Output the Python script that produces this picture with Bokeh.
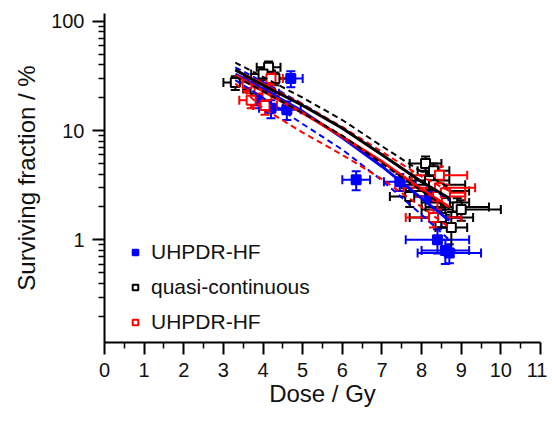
from bokeh.plotting import figure
from bokeh.models import (ColumnDataSource, Whisker, Legend, LegendItem,
                          LogAxis, LinearAxis, FixedTicker, Range1d)
from bokeh.embed import file_html
from bokeh.resources import INLINE

# ---------------- data ----------------
# UHPDR-HF (blue, filled)
blue_dose = [4.7, 4.1, 4.2, 4.6, 3.9, 6.35, 7.45, 8.4, 8.7, 8.6, 8.2, 8.5]
blue_sf = [30.0, 22.0, 16.0, 15.5, 19.0, 3.55, 3.4, 1.0, 0.76, 0.8, 2.5, 1.6]
blue_xerr = [0.3, 0.3, 0.3, 0.35, 0.3, 0.35, 0.4, 0.8, 0.8, 0.6, 0.5, 0.5]
blue_yerr = [5.0, 4.0, 3.0, 3.0, 3.0, 0.7, 0.6, 0.25, 0.15, 0.2, 0.5, 0.3]

# quasi-continuous (black, open)
black_dose = [4.14, 3.3, 4.0, 3.8, 4.3, 8.1, 8.3, 8.2, 8.4, 7.7, 8.6, 8.9, 9.0, 8.5, 8.3, 8.75]
black_sf = [38.0, 27.5, 33.0, 24.0, 30.0, 5.0, 4.3, 3.5, 2.8, 2.5, 2.2, 2.0, 1.9, 1.6, 3.2, 1.3]
black_xerr = [0.3, 0.3, 0.3, 0.3, 0.3, 0.4, 0.4, 0.5, 0.8, 0.5, 0.6, 0.8, 1.0, 0.8, 0.8, 0.4]
black_yerr = [5.0, 4.0, 4.0, 4.0, 4.0, 0.8, 0.7, 0.6, 0.5, 0.5, 0.5, 0.4, 0.4, 0.3, 0.5, 0.5]

# UHPDR-HF (red, open)
red_dose = [3.6, 3.9, 4.2, 4.1, 3.7, 4.05, 8.45, 8.45, 8.4, 8.3, 8.6]
red_sf = [27.0, 24.0, 30.0, 21.0, 19.0, 17.0, 3.9, 3.0, 2.5, 1.6, 2.7]
red_xerr = [0.3, 0.3, 0.3, 0.3, 0.3, 0.3, 0.7, 0.9, 0.7, 0.7, 0.5]
red_yerr = [4.0, 4.0, 4.0, 4.0, 3.0, 3.0, 0.8, 0.6, 0.6, 0.3, 0.5]

# fit curves
fit_dose = [3.3, 4.0, 5.0, 6.0, 7.0, 8.0, 8.7]
black_fit = [36, 26, 17, 10.5, 6.0, 3.4, 2.4]
black_hi = [42, 31, 20, 12.5, 7.2, 4.2, 3.0]
black_lo = [31, 23, 14.5, 9.0, 5.0, 2.8, 1.9]
red_fit = [32, 23, 14.5, 8.8, 5.2, 2.9, 2.0]
red_hi = [36, 27, 17.5, 10.8, 6.4, 3.8, 2.8]
red_lo = [27, 16, 9.6, 6.0, 3.6, 2.0, 1.3]
blue_fit = [33, 24, 15, 8.6, 4.7, 2.4, 1.5]
blue_hi = [38, 28, 17.5, 10.5, 6.0, 3.4, 2.3]
blue_lo = [29, 20, 11.5, 6.7, 3.5, 1.7, 1.0]

x_ticks = list(range(0, 12))
y_ticks = [1, 10, 100]

FONT = "Liberation Sans"
BLUE = "#0000ff"
BLACK = "#000000"
RED = "#ff0000"

p = figure(width=547, height=413, output_backend="svg", toolbar_location=None,
           y_axis_type="log", y_axis_location=None, x_axis_location=None,
           x_range=Range1d(0, 11), y_range=Range1d(0.115, 118),
           min_border_left=104, min_border_right=7, min_border_top=13,
           min_border_bottom=71)
p.outline_line_color = None
p.xgrid.visible = False
p.ygrid.visible = False

# axes
xa = LinearAxis(ticker=FixedTicker(ticks=x_ticks,
                                   minor_ticks=[i + 0.5 for i in range(11)]))
ya = LogAxis(ticker=FixedTicker(ticks=y_ticks,
                                minor_ticks=[m * 10 ** e for e in (-1, 0, 1) for m in range(2, 10)]))
for ax in (xa, ya):
    ax.axis_line_width = 2
    ax.axis_line_color = "black"
    ax.major_tick_line_width = 2
    ax.minor_tick_line_width = 1.5
    ax.major_tick_out = 12
    ax.major_tick_in = 0
    ax.minor_tick_out = 6
    ax.minor_tick_in = 0
    ax.major_label_text_font = FONT
    ax.major_label_text_font_size = "20px"
    ax.major_label_text_color = "#111111"
    ax.axis_label_text_font = FONT
    ax.axis_label_text_font_size = "24px"
    ax.axis_label_text_font_style = "normal"
    ax.axis_label_text_color = "#111111"
xa.axis_label = "Dose / Gy"
ya.axis_label = "Surviving fraction / %"
xa.major_label_standoff = 8
ya.major_label_standoff = 8
xa.axis_label_standoff = 0
ya.axis_label_standoff = 8
ya.major_label_overrides = {1: "1", 10: "10", 100: "100"}
p.add_layout(xa, "below")
p.add_layout(ya, "left")


def add_series(dose, sf, xerr, yerr, color, filled):
    src = ColumnDataSource(dict(
        x=dose, y=sf,
        xl=[d - e for d, e in zip(dose, xerr)], xu=[d + e for d, e in zip(dose, xerr)],
        yl=[s - e for s, e in zip(sf, yerr)], yu=[s + e for s, e in zip(sf, yerr)]))
    wx = Whisker(source=src, base="y", lower="xl", upper="xu", dimension="width",
                 line_color=color, line_width=2)
    wy = Whisker(source=src, base="x", lower="yl", upper="yu", dimension="height",
                 line_color=color, line_width=2)
    for w in (wx, wy):
        w.upper_head.line_color = color
        w.lower_head.line_color = color
        w.upper_head.line_width = 2
        w.lower_head.line_width = 2
        w.upper_head.size = 9
        w.lower_head.size = 9
    p.add_layout(wx)
    p.add_layout(wy)
    r = p.scatter("x", "y", source=src, marker="square", size=9,
                  line_color=color, line_width=2,
                  fill_color=color if filled else "white")
    return r


def add_fit(fit, hi, lo, color):
    p.line(fit_dose, fit, line_color=color, line_width=3)
    p.line(fit_dose, hi, line_color=color, line_width=2, line_dash="6 4")
    p.line(fit_dose, lo, line_color=color, line_width=2, line_dash="6 4")


rb = add_series(blue_dose, blue_sf, blue_xerr, blue_yerr, BLUE, True)
rk = add_series(black_dose, black_sf, black_xerr, black_yerr, BLACK, False)
rr = add_series(red_dose, red_sf, red_xerr, red_yerr, RED, False)

add_fit(blue_fit, blue_hi, blue_lo, BLUE)
add_fit(red_fit, red_hi, red_lo, RED)
add_fit(black_fit, black_hi, black_lo, BLACK)

legend = Legend(items=[LegendItem(label="UHPDR-HF", renderers=[rb]),
                       LegendItem(label="quasi-continuous", renderers=[rk]),
                       LegendItem(label="UHPDR-HF", renderers=[rr])],
                location=(24, 8))
legend.background_fill_alpha = 0
legend.border_line_color = None
legend.label_text_font = FONT
legend.label_text_font_size = "21px"
legend.label_text_color = "#111111"
legend.glyph_width = 14
legend.glyph_height = 20
legend.label_height = 20
legend.spacing = 11
legend.padding = 0
legend.margin = 0
legend.label_standoff = 9
p.add_layout(legend, "center")

open("out.html", "w").write(file_html(p, INLINE))
